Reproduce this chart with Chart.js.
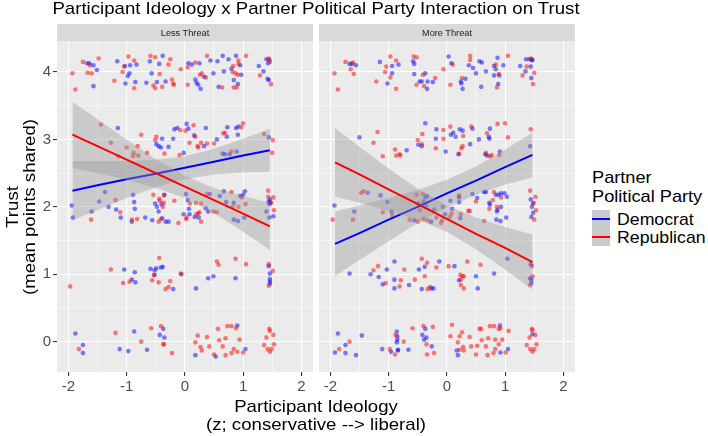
<!DOCTYPE html>
<html><head><meta charset="utf-8">
<script src="https://cdn.jsdelivr.net/npm/chart.js@4.4.1/dist/chart.umd.min.js"></script>
<style>
html,body{margin:0;padding:0;background:#fff;}
#wrap{position:relative;width:708px;height:436px;overflow:hidden;font-family:"Liberation Sans",Arial,sans-serif;}
canvas{position:absolute;top:0;}
.t{position:absolute;white-space:nowrap;transform-origin:0 0;}
.box{position:absolute;}
</style></head><body>
<div id="wrap">
<canvas id="c1" width="316" height="436" style="left:0px"></canvas>
<canvas id="c2" width="262" height="436" style="left:316px"></canvas>
</div>
<script>
// ---------- data ----------
const chartTitle = "Participant Ideology x Partner Political Party Interaction on Trust";
const panelNames = ["Less Threat", "More Threat"];
const parties = ["Democrat", "Republican"];
const xTitle = ["Participant Ideology", "(z; conservative --> liberal)"];
const yTitle = ["Trust", "(mean points shared)"];
const legendTitle = ["Partner", "Political Party"];
const xMajor = [-2, -1, 0, 1, 2];
const xMinor = [-1.5, -0.5, 0.5, 1.5];
const yMajor = [0, 1, 2, 3, 4];
const yMinor = [0.5, 1.5, 2.5, 3.5];

const lessDem = [
[-1.68,4.13],[-1.64,4.13],[-1.57,4.10],[-1.51,4.03],[-1.57,3.79],
[-1.16,4.16],[-1.03,4.09],[-0.94,4.10],[-0.83,4.11],[-0.95,3.98],[-0.98,3.94],[-1.02,3.83],[-0.85,3.85],
[-0.66,3.84],[-0.60,4.16],[-0.44,4.12],[-0.38,4.24],[-0.57,3.98],[-0.48,3.85],[-0.33,3.86],
[0.06,4.13],[0.12,4.11],[0.25,4.13],[0.18,3.89],[0.20,3.84],[0.23,3.81],[0.27,3.75],[0.33,3.93],[0.44,4.17],[0.49,3.98],
[0.56,4.16],[0.65,4.24],[0.67,4.01],[0.58,3.78],[0.75,4.19],[0.88,4.24],[0.95,4.10],[0.80,4.05],[0.84,3.88],[0.91,3.82],[0.97,3.96],
[1.27,4.09],[1.35,4.01],[1.40,4.19],[1.45,4.18],[1.42,3.90],[1.44,3.88],[1.43,4.13],
[-1.15,3.17],[-0.49,2.93],[-0.45,2.90],[-0.41,2.88],[-0.39,3.01],[-0.28,2.89],[-0.20,3.01],[-0.18,3.15],[-0.13,3.17],[-0.02,2.80],[0.03,3.23],[0.06,3.16],[0.16,3.06],[0.33,2.90],[0.36,3.17],[0.55,3.00],[0.72,3.04],[0.73,3.18],[0.65,2.79],[0.69,2.78],[0.77,2.78],[0.88,3.17],[0.92,3.19],[0.89,2.82],[0.91,3.07],[1.44,3.03],
[-1.94,2.02],[-1.92,1.84],[-1.60,1.93],[-1.47,2.08],[-1.37,2.22],[-1.31,2.00],[-1.18,1.96],[-1.10,1.84],[-0.89,2.18],[-0.87,2.07],[-0.86,1.97],[-0.91,1.78],[-0.68,1.84],[-0.56,1.80],[-0.51,2.05],[-0.48,2.00],[-0.45,1.93],[-0.40,2.04],[-0.35,2.18],[-0.39,1.83],[-0.33,1.78],[-0.28,1.78],[-0.02,1.89],[0.02,2.19],[0.05,2.10],[0.07,1.97],[0.08,1.89],[0.17,1.85],[0.24,1.84],[0.36,1.98],[0.43,2.19],[0.40,1.93],[0.60,2.16],[0.67,2.23],[0.71,2.07],[0.84,2.06],[0.84,1.81],[0.91,1.79],[0.95,2.16],[1.00,2.18],[1.03,2.23],[1.02,1.84],[1.44,2.08],[1.45,2.04],[1.46,2.11],[1.47,2.06],[1.40,1.93],[1.45,1.84],[1.52,1.86],
[-1.04,1.07],[-0.91,0.92],[-0.85,0.88],[-0.86,1.03],[-0.59,1.08],[-0.52,1.06],[-0.49,1.09],[-0.52,0.99],[-0.41,1.10],[-0.38,1.11],[-0.20,0.78],[-0.06,1.00],[0.19,0.79],[0.40,0.94],[0.49,0.97],[0.87,0.94],[1.44,1.12],[1.46,1.01],[1.46,0.93],[1.46,0.89],[1.46,0.86],
[-1.88,0.12],[-1.75,-0.05],[-1.75,-0.17],[-1.12,-0.11],[-0.97,-0.14],[-0.87,0.15],[-0.65,-0.12],[-0.37,0.19],[-0.43,0.10],[-0.35,0.06],[0.18,-0.20],[0.53,-0.22],[0.90,0.24],[1.04,-0.11]
];
const lessRep = [
[-1.93,3.98],[-1.88,3.74],[-1.75,4.15],[-1.63,4.10],[-1.60,3.98],[-1.67,3.99],[-1.48,4.20],
[-1.21,3.87],[-1.07,4.00],[-1.04,4.08],[-0.97,4.23],[-0.87,4.17],[-0.87,3.76],
[-0.59,4.24],[-0.51,4.22],[-0.25,4.19],[-0.28,4.11],[-0.43,3.97],[-0.54,3.80],[-0.51,3.76],[-0.39,3.78],[-0.22,3.89],[-0.20,3.83],[-0.19,3.81],
[-0.07,4.04],[0.05,4.07],[0.18,4.14],[0.26,3.96],[0.29,3.98],[0.05,3.81],[0.38,4.24],[0.36,3.92],
[0.64,3.77],[0.83,4.09],[0.92,4.17],[0.92,4.12],[0.82,4.00],[0.87,3.98],[0.91,3.96],[0.84,3.77],[0.89,3.77],[1.05,4.24],
[1.29,3.95],[1.44,4.20],[1.46,4.15],[1.48,3.82],
[-1.44,3.22],[-1.27,2.95],[-1.14,2.75],[-1.00,2.88],[-0.89,2.75],[-0.88,2.80],[-0.80,2.76],[-0.81,2.90],[-0.75,3.07],[-0.65,2.80],[-0.49,3.04],[-0.51,2.99],[-0.35,2.79],[-0.08,3.14],[-0.09,2.77],[0.01,3.13],[0.08,2.95],[0.15,3.21],[0.18,3.04],[0.22,2.90],[0.23,2.88],[0.28,2.95],[0.38,2.94],[0.50,2.94],[0.66,3.09],[0.69,3.10],[0.80,2.82],[0.97,3.18],[1.00,3.24],[1.36,3.08],[1.51,2.99],[1.50,2.80],
[-1.61,1.81],[-1.19,2.10],[-1.11,1.92],[-0.91,1.81],[-0.82,1.82],[-0.54,2.18],[-0.44,2.12],[-0.43,2.09],[-0.45,1.78],[-0.41,1.82],[-0.38,2.00],[-0.36,2.17],[-0.36,2.06],[-0.18,2.09],[-0.11,1.76],[0.02,1.82],[0.03,1.84],[0.09,2.05],[0.19,2.06],[0.20,1.89],[0.23,1.90],[0.25,1.92],[0.28,1.78],[0.28,2.05],[0.38,2.19],[0.49,1.93],[0.55,1.92],[0.80,2.22],[0.82,2.00],[0.98,2.14],[0.92,2.00],[1.04,2.04],[1.43,2.24],[1.43,2.15],[1.52,2.14],[1.48,2.06],[1.53,1.95],
[-1.97,0.82],[-1.27,1.07],[-1.06,0.87],[-0.95,0.89],[-0.53,0.99],[-0.56,0.91],[-0.44,1.24],[-0.45,0.88],[-0.33,0.78],[-0.28,0.81],[-0.25,0.90],[-0.07,1.01],[0.55,1.19],[0.58,1.14],[0.87,1.23],[1.05,1.15],[1.44,1.15],[1.51,1.05],[1.44,0.83],
[-1.82,-0.11],[-1.19,0.13],[-0.75,0.00],[-0.58,0.20],[-0.41,0.23],[-0.37,-0.04],[-0.36,-0.04],[-0.22,-0.17],[0.18,-0.01],[0.22,0.09],[0.27,-0.08],[0.29,-0.13],[0.38,0.07],[0.42,-0.07],[0.50,-0.19],[0.57,0.19],[0.59,0.02],[0.65,-0.07],[0.70,0.05],[0.70,-0.20],[0.73,0.23],[0.80,0.23],[0.80,-0.17],[0.84,-0.11],[0.88,0.20],[0.90,-0.15],[0.94,0.03],[1.00,-0.16],[1.36,-0.05],[1.40,0.06],[1.45,0.19],[1.46,0.16],[1.52,0.10],[1.53,-0.04],[1.42,-0.11],[1.46,-0.15],[1.49,-0.11]
];
const moreDem = [
[-1.67,4.12],[-1.63,4.12],[-1.56,4.10],[-1.15,4.15],[-0.94,4.09],[-0.83,4.11],[-0.94,3.98],[-1.02,3.83],[-0.58,4.16],[-0.56,4.12],[-0.56,3.97],[-0.37,3.98],[-0.43,3.86],[-0.47,3.86],[-0.34,3.75],[-0.33,3.86],[-0.24,3.85],[0.03,4.23],[0.08,4.13],[0.24,3.86],[0.25,3.83],[0.27,3.75],[0.32,3.90],[0.38,4.10],[0.45,4.06],[0.50,3.98],[0.56,4.16],[0.60,4.14],[0.67,4.01],[0.59,3.78],[0.81,4.09],[0.87,4.21],[0.84,4.04],[0.81,3.95],[0.90,3.95],[0.88,3.82],[0.97,4.10],[1.26,4.09],[1.35,4.01],[1.36,4.19],[1.42,4.19],[1.46,4.18],[1.47,4.18],[1.44,4.08],[1.45,3.91],
[-1.50,3.03],[-0.69,2.84],[-0.49,2.92],[-0.43,2.90],[-0.37,3.24],[-0.19,3.01],[-0.18,3.15],[-0.02,2.82],[0.07,3.07],[0.11,3.10],[0.15,3.04],[0.22,3.15],[0.27,3.13],[0.20,2.78],[0.44,3.16],[0.40,2.93],[0.55,3.00],[0.74,3.16],[0.72,3.04],[0.73,3.01],[0.66,2.78],[0.69,2.76],[0.91,2.82],[1.43,2.90],
[-1.93,2.02],[-1.59,1.93],[-1.36,2.21],[-1.14,2.17],[-1.02,2.07],[-0.95,1.93],[-0.56,1.80],[-0.49,2.05],[-0.37,2.14],[-0.34,2.16],[-0.40,2.08],[-0.35,2.02],[-0.27,1.78],[-0.22,1.96],[-0.07,2.00],[-0.03,1.89],[0.06,2.09],[0.09,1.97],[0.21,2.14],[0.21,2.07],[0.23,1.83],[0.44,2.19],[0.52,2.13],[0.64,2.22],[0.67,2.22],[0.73,2.06],[0.74,2.03],[0.84,2.18],[0.87,1.96],[0.86,1.93],[0.93,2.00],[0.85,1.81],[0.92,1.79],[0.89,2.18],[0.93,2.20],[0.99,2.20],[1.03,2.15],[1.02,1.84],[1.44,2.11],[1.48,2.05],[1.46,2.00],[1.45,1.85],[1.48,1.91],
[1.04,1.23],[-1.67,1.01],[-1.31,1.00],[-1.17,0.96],[-1.03,1.07],[-1.10,0.85],[-0.90,1.19],[-0.90,0.92],[-0.90,0.79],[-0.65,0.84],[-0.48,1.07],[-0.43,0.78],[-0.38,1.11],[-0.27,0.79],[-0.23,0.79],[-0.13,1.19],[0.13,1.12],[0.21,0.91],[0.50,0.97],[0.53,0.79],[0.81,1.01],[1.44,1.15],[1.43,0.94],[1.45,0.92],[1.45,0.87],
[-1.87,0.12],[-1.92,-0.16],[-1.74,-0.05],[-1.74,-0.17],[-1.56,-0.20],[-1.46,0.09],[-1.11,-0.11],[-0.96,-0.15],[-0.86,0.15],[-0.85,0.08],[-0.85,0.03],[-0.86,-0.01],[-0.84,-0.12],[-0.84,-0.13],[-0.66,-0.12],[-0.37,0.19],[-0.42,0.10],[-0.35,0.06],[-0.39,0.03],[-0.26,-0.07],[0.17,-0.13],[0.19,-0.20],[0.91,0.24],[0.92,-0.16],[1.05,-0.11],[1.47,0.11]
];
const moreRep = [
[-1.93,3.98],[-1.87,3.74],[-1.74,4.15],[-1.61,4.14],[-1.65,4.04],[-1.60,3.97],[-1.21,3.86],[-1.06,4.00],[-1.04,4.08],[-0.97,4.23],[-0.87,4.17],[-0.97,3.92],[-0.87,3.75],[-0.57,4.23],[-0.52,4.22],[-0.41,3.96],[-0.52,3.81],[-0.39,3.79],[-0.20,3.91],[-0.06,4.04],[0.10,4.11],[0.06,3.81],[0.26,3.91],[0.40,4.24],[0.40,4.18],[0.84,4.11],[0.89,3.97],[0.86,3.77],[1.05,4.24],[1.30,3.95],[1.37,4.08],[1.44,4.20],[1.50,3.99],[1.48,3.82],
[-1.19,3.11],[-1.26,2.95],[-1.10,2.75],[-0.89,2.85],[-0.87,2.76],[-0.80,2.76],[-0.81,2.78],[-0.50,2.99],[-0.42,3.08],[-0.43,2.93],[-0.19,2.87],[-0.06,3.14],[-0.06,3.01],[0.06,3.19],[0.28,3.05],[0.21,2.79],[0.27,2.90],[0.25,2.87],[0.42,3.19],[0.69,3.09],[0.67,2.80],[0.74,2.75],[0.77,2.77],[0.87,3.23],[1.00,3.24],[1.05,3.03],[0.90,2.77],[1.44,3.15],
[-1.96,1.81],[-1.61,1.81],[-1.47,2.21],[-1.43,2.23],[-1.10,1.92],[-0.94,1.88],[-0.64,1.81],[-0.52,2.18],[-0.41,2.19],[-0.46,1.95],[-0.50,1.78],[-0.40,1.82],[-0.33,1.80],[-0.18,1.84],[-0.10,1.76],[-0.08,1.80],[0.08,1.90],[0.05,1.85],[0.21,2.17],[0.24,1.89],[0.37,1.94],[0.39,1.94],[0.50,2.08],[0.64,1.79],[0.81,2.22],[0.79,2.10],[0.73,1.97],[0.86,2.00],[0.93,2.14],[1.43,2.24],[1.52,2.15],[1.49,2.06],[1.53,1.95],[1.50,1.81],
[-1.26,1.06],[-1.18,1.12],[-1.05,0.87],[-0.79,0.91],[-0.81,0.82],[-0.73,1.07],[-0.55,0.92],[-0.43,1.23],[-0.34,1.17],[-0.38,0.97],[-0.33,0.78],[-0.29,0.81],[-0.18,1.10],[0.03,1.12],[0.23,0.99],[0.24,0.92],[0.27,0.97],[0.29,0.97],[0.24,0.84],[0.29,0.79],[0.35,1.19],[0.58,1.14],[1.46,1.12],[1.47,0.97],[1.43,0.84],
[-1.85,-0.11],[-1.67,0.00],[-0.98,-0.11],[-0.89,-0.19],[-0.88,0.10],[-0.74,0.00],[-0.59,0.20],[-0.40,0.23],[-0.35,-0.04],[-0.24,0.22],[-0.34,-0.19],[-0.22,-0.17],[0.09,0.25],[0.06,0.08],[0.19,-0.01],[0.22,0.08],[0.26,0.14],[0.28,-0.08],[0.29,-0.13],[0.22,-0.12],[0.39,0.07],[0.42,-0.07],[0.50,-0.19],[0.52,-0.06],[0.56,0.19],[0.59,0.19],[0.60,0.02],[0.67,-0.07],[0.71,0.05],[0.70,-0.20],[0.74,0.23],[0.81,0.23],[0.80,-0.17],[0.83,-0.11],[0.83,0.03],[0.89,0.19],[0.92,0.20],[0.89,-0.04],[0.95,0.03],[1.01,-0.16],[1.06,0.16],[1.37,-0.05],[1.42,0.06],[1.46,0.19],[1.47,0.17],[1.52,0.10],[1.54,-0.04],[1.43,-0.11],[1.47,-0.15],[1.50,-0.11]
];

// fitted lines and confidence bands
const lessFitX     = [-1.93, -1.5, -1, -0.5, 0, 0.5, 1, 1.46];
const lessDemFit   = [2.24, 2.32, 2.41, 2.49, 2.58, 2.67, 2.76, 2.84];
const lessDemUpper = [2.68, 2.68, 2.68, 2.70, 2.75, 2.86, 3.01, 3.16];
const lessDemLower = [1.80, 1.95, 2.13, 2.29, 2.41, 2.48, 2.51, 2.52];
const lessRepFit   = [3.07, 2.90, 2.70, 2.50, 2.30, 2.10, 1.90, 1.71];
const lessRepUpper = [3.56, 3.30, 3.00, 2.71, 2.46, 2.28, 2.16, 2.06];
const lessRepLower = [2.58, 2.50, 2.40, 2.28, 2.13, 1.91, 1.63, 1.36];
const moreFitX     = [-1.92, -1.5, -1, -0.5, 0, 0.5, 1, 1.47];
const moreDemFit   = [1.45, 1.61, 1.81, 2.00, 2.20, 2.39, 2.59, 2.77];
const moreDemUpper = [1.93, 2.02, 2.13, 2.25, 2.40, 2.60, 2.85, 3.10];
const moreDemLower = [0.97, 1.21, 1.49, 1.76, 1.99, 2.18, 2.33, 2.44];
const moreRepFit   = [2.66, 2.48, 2.26, 2.04, 1.82, 1.60, 1.39, 1.18];
const moreRepUpper = [3.17, 2.89, 2.57, 2.27, 2.02, 1.84, 1.70, 1.59];
const moreRepLower = [2.15, 2.06, 1.94, 1.81, 1.63, 1.37, 1.07, 0.77];

// ---------- styling ----------
const DEM = '#0000FF', REP = '#FF0000';
const DEM_PT = 'rgba(0,0,255,0.5)', REP_PT = 'rgba(255,0,0,0.5)';
const BAND = 'rgba(153,153,153,0.4)';
const FONT = '"Liberation Sans", Arial, sans-serif';
const SX = 1.137;

const panelBg = {
  id: 'panelBg',
  beforeDraw(chart) {
    const { ctx, chartArea: a } = chart;
    ctx.save();
    ctx.fillStyle = '#EBEBEB';
    ctx.fillRect(a.left, a.top, a.right - a.left, a.bottom - a.top);
    ctx.restore();
  }
};

const toXY = (xs, ys) => xs.map((x, i) => ({ x: x, y: ys[i] }));
const pts = arr => arr.map(p => ({ x: p[0], y: p[1] }));

function lineDs(xs, ys, color) {
  return { type: 'line', data: toXY(xs, ys), borderColor: color, borderWidth: 2,
           pointRadius: 0, fill: false, tension: 0 };
}
function bandDs(xs, ys, fill) {
  return { type: 'line', data: toXY(xs, ys), borderColor: 'rgba(0,0,0,0)', borderWidth: 0,
           pointRadius: 0, fill: fill ? '+1' : false, backgroundColor: BAND, tension: 0 };
}
function pointDs(arr, color) {
  return { type: 'scatter', data: pts(arr), backgroundColor: color, borderWidth: 0,
           pointRadius: 2.3, pointHoverRadius: 2.3 };
}

function makePanel(id, dem, rep, fx, dFit, dUp, dLo, rFit, rUp, rLo, showY) {
  const xVals = xMajor.concat(xMinor).sort((a, b) => a - b);
  const yVals = yMajor.concat(yMinor).sort((a, b) => a - b);
  const isMajor = ctx => ctx.tick && ((ctx.scale.axis === 'x' && xMajor.includes(ctx.tick.value)) ||
                                      (ctx.scale.axis === 'y' && yMajor.includes(ctx.tick.value)));
  const gridW = ctx => isMajor(ctx) ? 1.1 : 0.55;
  const tickC = ctx => isMajor(ctx) ? '#333333' : 'rgba(0,0,0,0)';
  return new Chart(document.getElementById(id), {
    type: 'scatter',
    data: {
      datasets: [
        lineDs(fx, rFit, REP),
        bandDs(fx, rUp, true),
        bandDs(fx, rLo, false),
        lineDs(fx, dFit, DEM),
        bandDs(fx, dUp, true),
        bandDs(fx, dLo, false),
        pointDs(rep, REP_PT),
        pointDs(dem, DEM_PT)
      ]
    },
    options: {
      responsive: false, animation: false, devicePixelRatio: 1, events: [],
      layout: { padding: { left: showY ? 0 : 3, right: 3, top: 41, bottom: 0 } },
      plugins: { legend: { display: false }, tooltip: { enabled: false } },
      scales: {
        x: {
          type: 'linear', min: -2.195, max: 2.2,
          afterBuildTicks: ax => { ax.ticks = xVals.map(v => ({ value: v })); },
          afterFit: ax => { ax.height = 64; },
          ticks: { callback: v => xMajor.includes(v) ? String(v) : '', color: '#4D4D4D',
                   font: { family: FONT, size: 15 }, padding: 1.5, maxRotation: 0, autoSkip: false },
          grid: { color: '#FFFFFF', lineWidth: gridW, tickColor: tickC, tickLength: 4, tickWidth: 1.1 },
          border: { display: false }
        },
        y: {
          type: 'linear', min: -0.45, max: 4.46,
          afterBuildTicks: ax => { ax.ticks = yVals.map(v => ({ value: v })); },
          afterFit: ax => { ax.width = showY ? 57 : 0; },
          ticks: { display: showY, callback: v => yMajor.includes(v) ? String(v) : '', color: '#4D4D4D',
                   font: { family: FONT, size: 15 }, padding: 2, autoSkip: false },
          grid: { color: '#FFFFFF', lineWidth: gridW, tickColor: tickC, tickLength: 4, tickWidth: 1.1,
                  drawTicks: showY },
          border: { display: false }
        }
      }
    },
    plugins: [panelBg]
  });
}

makePanel('c1', lessDem, lessRep, lessFitX, lessDemFit, lessDemUpper, lessDemLower,
          lessRepFit, lessRepUpper, lessRepLower, true);
makePanel('c2', moreDem, moreRep, moreFitX, moreDemFit, moreDemUpper, moreDemLower,
          moreRepFit, moreRepUpper, moreRepLower, false);

// ---------- HTML text / strips / legend ----------
const wrap = document.getElementById('wrap');
function text(str, x, baseY, opt) {
  opt = opt || {};
  const size = opt.size || 16.4;
  const el = document.createElement('div');
  el.className = 't';
  el.textContent = str;
  el.style.fontSize = size + 'px';
  el.style.lineHeight = size + 'px';
  el.style.color = opt.color || '#000000';
  const asc = size * 0.8305;
  const sx = opt.sx || SX;
  if (opt.rotate) {
    el.style.left = x + 'px';
    el.style.top = baseY + 'px';
    el.style.transform = 'rotate(-90deg) scaleX(' + sx + ') translate(-50%,' + (-asc) + 'px)';
  } else {
    el.style.left = x + 'px';
    el.style.top = (baseY - asc) + 'px';
    el.style.transform = opt.center ? 'scaleX(' + sx + ') translateX(-50%)' : 'scaleX(' + sx + ')';
  }
  wrap.appendChild(el);
  return el;
}
function box(l, t, w, h, color) {
  const el = document.createElement('div');
  el.className = 'box';
  el.style.left = l + 'px'; el.style.top = t + 'px';
  el.style.width = w + 'px'; el.style.height = h + 'px';
  el.style.background = color;
  wrap.appendChild(el);
}

// title
text(chartTitle, 315.5, 13.3, { center: true });
// strips
box(57, 24, 256, 17, '#D9D9D9');
box(319, 24, 256, 17, '#D9D9D9');
text(panelNames[0], 185, 35.6, { center: true, size: 8.4, color: '#1A1A1A', sx: 1.1 });
text(panelNames[1], 447, 35.6, { center: true, size: 8.4, color: '#1A1A1A', sx: 1.1 });
// axis titles
text(xTitle[0], 316, 411.5, { center: true });
text(xTitle[1], 316, 429.8, { center: true });
text(yTitle[0], 17.5, 206.5, { rotate: true });
text(yTitle[1], 35, 206.5, { rotate: true });
// legend
text(legendTitle[0], 592.3, 182.3, { sx: 1.11 });
text(legendTitle[1], 592.3, 201.7, { sx: 1.11 });
box(592, 210, 18, 36, '#CACACA');
box(592, 218, 18, 2, DEM);
box(592, 235.5, 18, 2, REP);
text(parties[0], 616.5, 225, { sx: 1.08 });
text(parties[1], 616.5, 242.5, { sx: 1.08 });
</script>
</body></html>
